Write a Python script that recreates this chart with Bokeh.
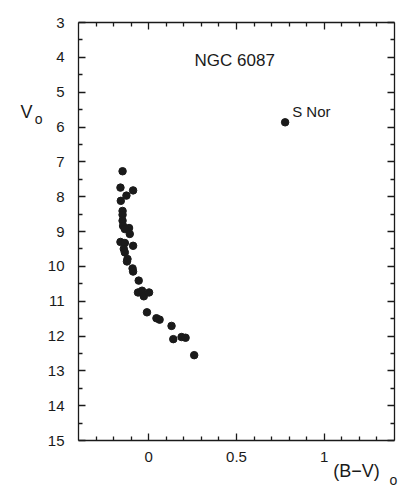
from bokeh.plotting import figure
from bokeh.models import Range1d, LinearAxis, FixedTicker, Label
from bokeh.embed import file_html
from bokeh.resources import INLINE

# Cluster members of NGC 6087: intrinsic colour (B-V)o and magnitude Vo
bv = [-0.149, -0.161, -0.089, -0.127, -0.159, -0.149, -0.149, -0.149, -0.146,
      -0.112, -0.136, -0.108, -0.161, -0.136, -0.089, -0.142, -0.136, -0.121,
      -0.124, -0.092, -0.089, -0.057, -0.061, -0.038, -0.028, 0.002, -0.010,
      0.044, 0.062, 0.130, 0.140, 0.187, 0.210, 0.259]
v0 = [7.27, 7.74, 7.82, 7.97, 8.12, 8.41, 8.52, 8.69, 8.84,
      8.90, 8.93, 9.07, 9.30, 9.33, 9.41, 9.50, 9.60, 9.79,
      9.86, 10.06, 10.15, 10.41, 10.75, 10.70, 10.86, 10.75, 11.32,
      11.49, 11.53, 11.71, 12.09, 12.03, 12.05, 12.55]

# The Cepheid S Nor
snor_bv = [0.777]
snor_v = [5.865]

y_major = [3, 4, 5, 6, 7, 8, 9, 10, 11, 12, 13, 14, 15]
y_minor = [3.5, 4.5, 5.5, 6.5, 7.5, 8.5, 9.5, 10.5, 11.5, 12.5, 13.5, 14.5]
x_major = [0, 0.5, 1]
x_minor = [-0.3, -0.2, -0.1, 0.1, 0.2, 0.3, 0.4, 0.6, 0.7, 0.8, 0.9, 1.1, 1.2, 1.3]
x_labels = {0: "0", 0.5: "0.5", 1: "1"}

# axis titles: text and the data value they are centred on
y_title, y_title_at = "V", 5.575
y_sub, y_sub_at = "o", 5.78
x_title, x_title_at = "(B\u2212V)", 1.183
x_sub, x_sub_at = "o", 1.394

FONT = "Liberation Sans"
INK = "#1a1a1a"

p = figure(width=398, height=490, output_backend="svg", toolbar_location=None,
           x_range=Range1d(-0.4, 1.4), y_range=Range1d(15, 3),
           x_axis_location=None, y_axis_location=None,
           min_border_left=78, min_border_right=4, min_border_top=22,
           min_border_bottom=49)
p.grid.visible = False
p.outline_line_color = None
p.background_fill_color = "white"
p.border_fill_color = "white"


def style(ax, ticks, minor, labels=True):
    ax.ticker = FixedTicker(ticks=ticks, minor_ticks=minor)
    ax.axis_line_color = INK
    ax.axis_line_width = 1.3
    ax.major_tick_line_color = INK
    ax.major_tick_line_width = 1.3
    ax.minor_tick_line_color = INK
    ax.minor_tick_line_width = 1.3
    ax.major_tick_in = 7
    ax.major_tick_out = 0
    ax.minor_tick_in = 4
    ax.minor_tick_out = 0
    ax.major_label_text_font = FONT
    ax.major_label_text_font_size = "15px"
    ax.major_label_text_color = INK
    if not labels:
        ax.major_label_overrides = {t: "" for t in ticks}
        ax.major_label_text_font_size = "4px"
        ax.major_label_standoff = 0


def title_axis(at, text, size, standoff):
    ax = LinearAxis(ticker=FixedTicker(ticks=[at], minor_ticks=[]))
    ax.axis_line_color = None
    ax.major_tick_line_color = None
    ax.minor_tick_line_color = None
    ax.major_tick_in = 0
    ax.major_tick_out = 0
    ax.major_label_overrides = {at: text}
    ax.major_label_orientation = "horizontal"
    ax.major_label_text_font = FONT
    ax.major_label_text_font_size = size
    ax.major_label_text_color = INK
    ax.major_label_standoff = standoff
    return ax


left = LinearAxis()
style(left, y_major, y_minor)
left.major_label_standoff = 14
p.add_layout(left, "left")
# subscript first (closer to the frame), then the letter further out
p.add_layout(title_axis(y_sub_at, y_sub, "14px", 2), "left")
p.add_layout(title_axis(y_title_at, y_title, "18px", -1), "left")

right = LinearAxis()
style(right, y_major, y_minor, labels=False)
p.add_layout(right, "right")

bottom = LinearAxis()
style(bottom, x_major, x_minor)
bottom.major_label_overrides = x_labels
bottom.major_label_standoff = 11
p.add_layout(bottom, "below")
p.add_layout(title_axis(x_title_at, x_title, "18px", -4), "below")
p.add_layout(title_axis(x_sub_at, x_sub, "14px", -12), "below")

top = LinearAxis()
style(top, x_major, x_minor, labels=False)
p.add_layout(top, "above")

p.scatter(bv, v0, size=7.5, color=INK)
p.scatter(snor_bv, snor_v, size=7.5, color=INK)


def lab(x, y, text, size):
    p.add_layout(Label(x=x, y=y, text=text, text_font=FONT,
                       text_font_size=size, text_color=INK,
                       text_align="left", text_baseline="middle"))


lab(0.261, 4.09, "NGC 6087", "17px")
lab(0.817, 5.55, "S Nor", "15px")

open("out.html", "w").write(file_html(p, INLINE))
